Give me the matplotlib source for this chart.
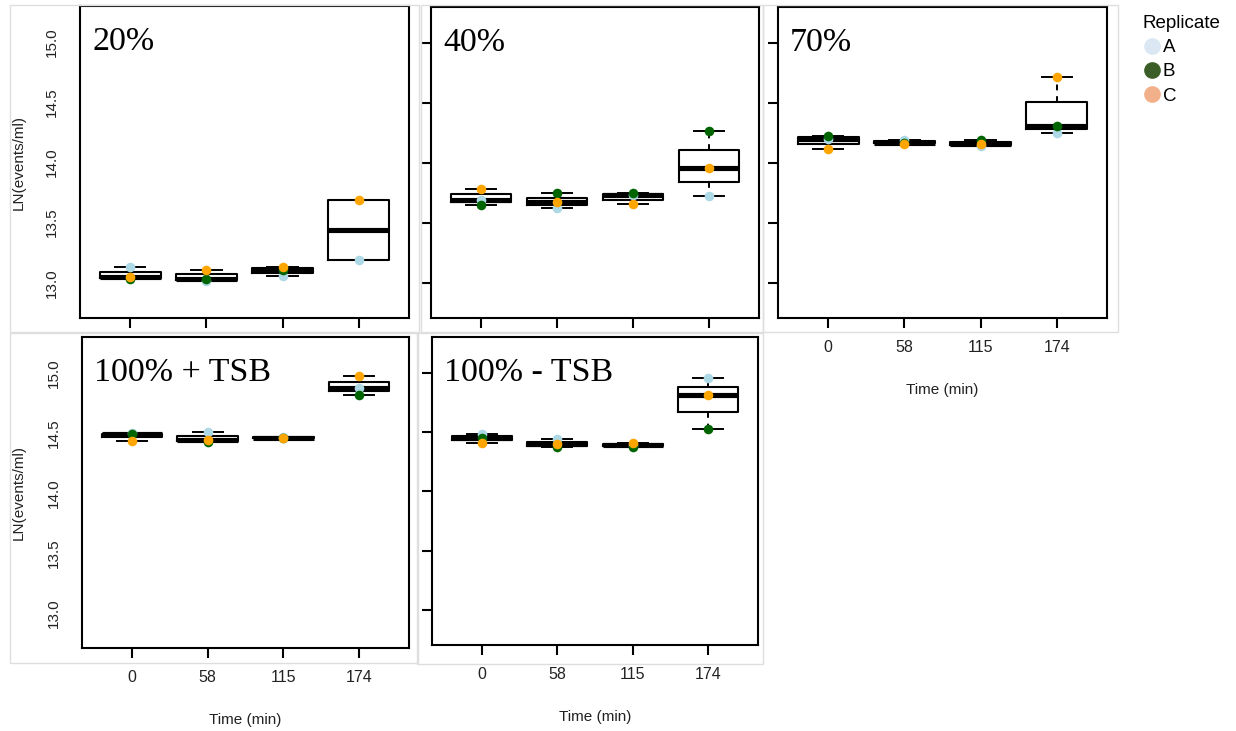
import numpy as np
import matplotlib
matplotlib.use("Agg")
import matplotlib.pyplot as plt
from matplotlib.lines import Line2D
from matplotlib.patches import Rectangle

plt.rcParams['font.family'] = ['Liberation Sans', 'DejaVu Sans']

W, H = 1236, 731

times = ["0", "58", "115", "174"]
replicates = ["A", "B", "C"]
panel_titles = ["20%", "40%", "70%", "100% + TSB", "100% - TSB"]

# LN(events/ml) per replicate, one value per time point
p20_A = [13.13, 13.017, 13.06, 13.19]
p20_B = [13.03, 13.033, 13.11, np.nan]
p20_C = [13.045, 13.105, 13.127, 13.69]

p40_A = [13.695, 13.625, 13.73, 13.728]
p40_B = [13.65, 13.75, 13.75, 14.266]
p40_C = [13.78, 13.67, 13.66, 13.954]

p70_A = [14.20, 14.195, 14.14, 14.253]
p70_B = [14.225, 14.17, 14.19, 14.306]
p70_C = [14.115, 14.155, 14.155, 14.717]

p100p_A = [14.50, 14.505, 14.465, 14.874]
p100p_B = [14.49, 14.425, 14.46, 14.818]
p100p_C = [14.435, 14.44, 14.455, 14.977]

p100m_A = [14.48, 14.44, 14.39, 14.952]
p100m_B = [14.45, 14.37, 14.375, 14.525]
p100m_C = [14.41, 14.395, 14.405, 14.814]

panels = [
    (p20_A, p20_B, p20_C),
    (p40_A, p40_B, p40_C),
    (p70_A, p70_B, p70_C),
    (p100p_A, p100p_B, p100p_C),
    (p100m_A, p100m_B, p100m_C),
]

point_colors = ["#add8e6", "#006400", "#ffa500"]
legend_colors = ["#dbe8f4", "#3b5e28", "#f2b08a"]

# axes boxes in pixels: left, top, right, bottom
boxes = [(80, 6, 409, 318), (431, 7, 759, 318), (778, 7, 1107, 318),
         (82, 337, 409, 648), (432, 337, 758, 645)]
show_ylab = [True, False, False, True, False]
show_xlab = [False, False, True, True, True]


def fivenum(v):
    # Tukey hinges, like R's boxplot
    v = np.sort(np.asarray(v)[~np.isnan(v)])
    n = len(v)
    n4 = np.floor((n + 3) / 2) / 2
    d = np.array([1, n4, (n + 1) / 2, n + 1 - n4, n]) - 1
    return 0.5 * (v[np.floor(d).astype(int)] + v[np.ceil(d).astype(int)])


fig = plt.figure(figsize=(W / 100, H / 100), dpi=100)

# light grey frames of the pasted panels
for l, t, r, b in [(10, 5, 419, 332), (421, 5, 763, 332), (763, 5, 1118, 332),
                   (10, 333, 418, 663), (417, 333, 763, 664)]:
    fig.patches.append(Rectangle((l / W, 1 - b / H), (r - l) / W, (b - t) / H,
                                 transform=fig.transFigure, fill=False,
                                 edgecolor="#dedede", lw=1))

for i, (reps, (l, t, r, b)) in enumerate(zip(panels, boxes)):
    ax = fig.add_axes([l / W, 1 - b / H, (r - l) / W, (b - t) / H])
    stats = []
    for j in range(len(times)):
        vals = np.array([rep[j] for rep in reps])
        q = fivenum(vals)
        stats.append(dict(whislo=q[0], q1=q[1], med=q[2], q3=q[3], whishi=q[4]))
    ax.bxp(stats, positions=[1, 2, 3, 4], widths=0.8, capwidths=0.4,
           showfliers=False,
           boxprops=dict(color="black", lw=1.5),
           medianprops=dict(color="black", lw=3.7, solid_capstyle="butt"),
           whiskerprops=dict(color="black", lw=1.4, ls=(0, (3, 3))),
           capprops=dict(color="black", lw=1.4))
    for rep, c in zip(reps, point_colors):
        ax.scatter([1, 2, 3, 4], rep, s=48, color=c, zorder=5, linewidths=0)

    ax.set_xlim(0.34, 4.66)
    ax.set_ylim(12.707, 15.30)
    ax.set_yticks([13.0, 13.5, 14.0, 14.5, 15.0])
    ax.set_xticks([1, 2, 3, 4])
    for s in ax.spines.values():
        s.set_linewidth(1.5)

    if show_ylab[i]:
        ax.set_yticklabels(["13.0", "13.5", "14.0", "14.5", "15.0"],
                           rotation=90, va="center", fontsize=11, color="#222222")
        ax.tick_params(axis="y", length=0, pad=15)
        ax.set_ylabel("LN(events/ml)", fontsize=11, color="#222222")
        ax.yaxis.set_label_coords(-(l - 26) / (r - l), 0.5)
    else:
        ax.set_yticklabels([])
        ax.tick_params(axis="y", length=7, width=1.5)

    ax.tick_params(axis="x", length=7, width=1.5, pad=9)
    if show_xlab[i]:
        ax.set_xticklabels(times, fontsize=11.5, color="#222222")
        ax.set_xlabel("Time (min)", fontsize=11, color="#222222", labelpad=20)
    else:
        ax.set_xticklabels([])

    ax.text(12 / (r - l), 1 - 44 / (b - t), panel_titles[i], transform=ax.transAxes,
            family=["Liberation Serif", "DejaVu Serif"], fontsize=24.5,
            ha="left", va="baseline")

handles = [Line2D([], [], marker="o", ls="", color=c, ms=11) for c in legend_colors]
fig.legend(handles, replicates, title="Replicate", loc="upper left",
           bbox_to_anchor=(1142 / W, 1 - 15 / H), frameon=False, fontsize=13.5,
           title_fontsize=13.5, handletextpad=0.0, labelspacing=0.38,
           handlelength=1.1, borderpad=0, borderaxespad=0, alignment="left")

fig.savefig("out.png", dpi=100)
